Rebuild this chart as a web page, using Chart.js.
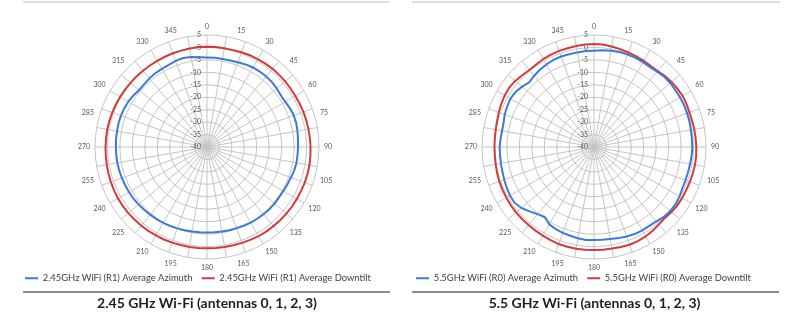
<!DOCTYPE html>
<html>
<head>
<meta charset="utf-8">
<script src="https://cdn.jsdelivr.net/npm/chart.js@4.4.1/dist/chart.umd.min.js"></script>
<style>
  body { margin: 0; background: #fff; width: 800px; height: 324px; position: relative; overflow: hidden; font-family: Lato, sans-serif; }
  canvas { position: absolute; top: 0; }
  .topline { position: absolute; top: 1px; height: 2px; background: #dedede; }
  .rule { position: absolute; top: 291px; height: 2px; background: #8c8c8c; }
  .title { position: absolute; top: 294px; height: 18px; line-height: 18px; font-weight: bold; font-size: 14px; color: #1e1e1e; text-align: center; }
</style>
</head>
<body>
<div class="topline" style="left:23px;width:367px"></div>
<div class="topline" style="left:412px;width:368px"></div>
<canvas id="c1" width="368" height="293" style="left:23px"></canvas>
<canvas id="c2" width="361" height="293" style="left:414px"></canvas>
<div class="rule" style="left:23px;width:367px"></div>
<div class="rule" style="left:412px;width:367px"></div>
<div class="title" style="left:23px;width:368px">2.45 GHz Wi-Fi (antennas 0, 1, 2, 3)</div>
<div class="title" style="left:414px;width:361px">5.5 GHz Wi-Fi (antennas 0, 1, 2, 3)</div>
<script>
// azimuth angle of each sample, degrees (clockwise from top)
const angleDeg = [0, 5, 10, 15, 20, 25, 30, 35, 40, 45, 50, 55, 60, 65, 70, 75, 80, 85,
  90, 95, 100, 105, 110, 115, 120, 125, 130, 135, 140, 145, 150, 155, 160, 165, 170, 175,
  180, 185, 190, 195, 200, 205, 210, 215, 220, 225, 230, 235, 240, 245, 250, 255, 260, 265,
  270, 275, 280, 285, 290, 295, 300, 305, 310, 315, 320, 325, 330, 335, 340, 345, 350, 355];

// gain in dB, one value per angle
const wifi24Azimuth = [-4.0, -4.0, -4.1, -4.0, -3.8, -3.4, -3.1, -3.0, -3.0, -3.1, -3.4, -3.8,
  -3.7, -3.2, -2.9, -2.9, -3.1, -3.3, -3.4, -3.5, -3.5, -3.7, -4.1, -4.4,
  -4.6, -4.7, -4.6, -4.6, -4.7, -4.8, -4.9, -5.1, -5.3, -5.4, -5.5, -5.6,
  -5.6, -5.6, -5.5, -5.4, -5.2, -5.0, -4.8, -4.6, -4.5, -4.3, -4.1, -3.9,
  -3.8, -3.7, -3.6, -3.5, -3.4, -3.4, -3.4, -3.3, -3.3, -3.2, -3.2, -3.3,
  -3.5, -3.9, -4.4, -4.3, -4.0, -3.8, -3.8, -3.6, -3.2, -3.0, -3.3, -3.8];
const wifi24Downtilt = [0.3, 0.3, 0.3, 0.3, 0.5, 0.7, 0.8, 0.9, 1.0, 1.0, 1.0, 1.0,
  1.0, 1.1, 1.2, 1.3, 1.4, 1.5, 1.6, 1.7, 1.8, 1.8, 1.8, 1.7,
  1.7, 1.7, 1.6, 1.6, 1.5, 1.5, 1.4, 1.2, 1.0, 0.9, 0.8, 0.7,
  0.7, 0.7, 0.8, 0.8, 0.9, 1.0, 1.0, 1.1, 1.2, 1.2, 1.3, 1.3,
  1.3, 1.2, 1.1, 1.0, 0.9, 0.8, 0.8, 0.7, 0.7, 0.6, 0.5, 0.4,
  0.3, 0.2, 0.1, 0.1, 0.0, 0.0, 0.0, 0.0, 0.1, 0.1, 0.2, 0.3];
const wifi55Azimuth = [-1.3, -1.0, -0.7, -0.5, -0.5, -0.5, -0.6, -0.8, -0.5, -0.1, 0.0, -0.1,
  -0.1, -0.1, -0.2, -0.3, -0.5, -0.5, -0.5, -0.6, -0.8, -0.9, -0.9, -0.8,
  -0.3, 0.0, 0.0, -0.3, -1.0, -1.3, -1.3, -1.4, -1.7, -2.1, -2.5, -2.6,
  -2.6, -2.5, -2.8, -3.1, -3.3, -3.6, -4.1, -5.6, -4.8, -3.4, -1.9, -1.0,
  -1.0, -1.3, -1.6, -1.9, -2.0, -2.1, -2.1, -2.3, -2.5, -2.4, -1.8, -1.5,
  -1.2, -1.5, -2.3, -3.2, -2.6, -2.1, -1.7, -1.4, -1.3, -1.4, -1.4, -1.3];
const wifi55Downtilt = [1.4, 1.3, 1.0, 0.7, 0.4, 0.2, 0.0, -0.3, -0.2, 0.3, 0.7, 0.9,
  1.1, 1.0, 0.8, 0.8, 0.9, 1.0, 1.1, 1.2, 1.2, 1.1, 1.0, 0.9,
  0.9, 0.9, 0.6, 0.3, 0.6, 1.1, 1.5, 1.7, 1.8, 1.6, 1.4, 1.4,
  1.4, 1.4, 1.5, 1.5, 1.5, 1.3, 1.1, 1.0, 0.9, 0.9, 0.9, 0.8,
  0.7, 0.6, 0.5, 0.3, 0.1, 0.0, 0.0, 0.0, 0.1, 0.3, 0.7, 1.1,
  1.4, 1.6, 1.3, 0.8, 0.4, 0.5, 0.8, 1.0, 1.1, 1.1, 1.2, 1.3];

const BLUE = '#3d7ad6';
const RED = '#d43a3a';
const GRID = '#c4c4c4';

Chart.defaults.font.family = 'Lato, sans-serif';
Chart.defaults.animation = false;

// value-axis labels sit just left of the 0 degree spoke, right aligned
const tickLabels = {
  id: 'tickLabels',
  beforeDatasetsDraw(chart) {
    const r = chart.scales.r;
    const ctx = chart.ctx;
    ctx.save();
    ctx.font = '7px Lato, sans-serif';
    ctx.fillStyle = '#595959';
    ctx.textAlign = 'right';
    ctx.textBaseline = 'middle';
    r.ticks.forEach(t => {
      ctx.fillText(t.label, r.xCenter - 6, r.yCenter - r.getDistanceFromCenterForValue(t.value));
    });
    ctx.restore();
  }
};

function renderPolar(id, azLabel, dtLabel, az, dt) {
  return new Chart(document.getElementById(id), {
    type: 'radar',
    data: {
      labels: angleDeg.map(String),
      datasets: [
        { label: azLabel, data: az, borderColor: BLUE, backgroundColor: BLUE, borderWidth: 2, pointRadius: 0, fill: false },
        { label: dtLabel, data: dt, borderColor: RED, backgroundColor: RED, borderWidth: 2, pointRadius: 0, fill: false },
      ],
    },
    options: {
      responsive: false,
      layout: { padding: { top: 23, left: 0, right: 0, bottom: 0 } },
      scales: {
        r: {
          min: -40,
          max: 5,
          ticks: { display: false, stepSize: 5 },
          grid: { circular: true, color: GRID, lineWidth: 1 },
          angleLines: { color: GRID, lineWidth: ctx => (ctx.index % 2 === 0 ? 1 : 0) },
          pointLabels: {
            padding: 5,
            color: '#595959',
            font: { size: 7, lineHeight: 1 },
            callback: (label, i) => (angleDeg[i] % 15 === 0 ? label : ''),
          },
        },
      },
      plugins: {
        tooltip: { enabled: false },
        legend: {
          position: 'bottom',
          align: 'start',
          labels: {
            usePointStyle: true,
            pointStyle: 'line',
            pointStyleWidth: 13,
            padding: 2,
            color: '#404040',
            font: { size: 9.4 },
            // wider gap between the two entries
            generateLabels: chart => Chart.defaults.plugins.legend.labels.generateLabels(chart)
              .map((it, i) => (i === 0 ? { ...it, text: it.text + '   ' } : it)),
          },
        },
      },
    },
    plugins: [tickLabels],
  });
}

renderPolar('c1', '2.45GHz WiFi (R1) Average Azimuth', '2.45GHz WiFi (R1) Average Downtilt', wifi24Azimuth, wifi24Downtilt);
renderPolar('c2', '5.5GHz WiFi (R0) Average Azimuth', '5.5GHz WiFi (R0) Average Downtilt', wifi55Azimuth, wifi55Downtilt);
</script>
</body>
</html>
